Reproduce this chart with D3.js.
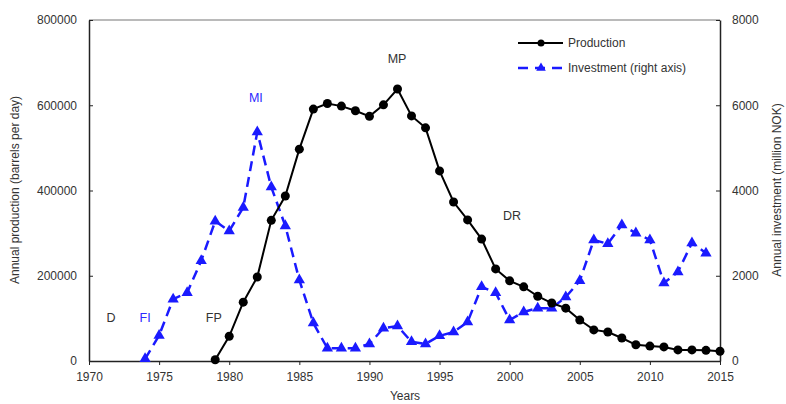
<!DOCTYPE html>
<html><head><meta charset="utf-8">
<script src="https://cdn.jsdelivr.net/npm/d3@7/dist/d3.min.js"></script>
<style>body{margin:0;background:#fff;} text{font-family:"Liberation Sans",Arial,sans-serif;}</style>
</head><body><svg id="c" width="786" height="404"></svg>
<script>
const prodYears = d3.range(1979, 2016);
const production = [3000,58000,138000,197000,330000,387000,497000,591000,604000,598000,587000,574000,601000,638000,575000,547000,446000,373000,331000,286000,216000,188000,174000,152000,136000,124000,96000,73000,68000,54000,38000,35000,33000,26000,26000,25000,23000];
const invYears = d3.range(1974, 2015);
const investment = [50,600,1450,1600,2350,3280,3050,3600,5370,4080,3170,1900,890,300,300,300,400,770,820,450,400,590,680,915,1740,1600,960,1150,1240,1240,1500,1880,2840,2750,3190,3000,2840,1830,2090,2770,2530];
const xTicks = [1970,1975,1980,1985,1990,1995,2000,2005,2010,2015];
const leftTicks = [0,200000,400000,600000,800000];
const rightTicks = [0,2000,4000,6000,8000];
const phaseLabels = [
  {t:"D", x:1971.57, y:91500, c:"#333"},
  {t:"FI", x:1974.0, y:91500, c:"#2a2aff"},
  {t:"FP", x:1978.9, y:91500, c:"#333"},
  {t:"MI", x:1981.9, y:607000, c:"#2a2aff"},
  {t:"MP", x:1991.97, y:699000, c:"#333"},
  {t:"DR", x:2000.17, y:331000, c:"#333"}
];

const svg = d3.select("#c");
const L=89, R=720, T=20, B=361;
const x = d3.scaleLinear().domain([1970,2015]).range([L,R]);
const yL = d3.scaleLinear().domain([0,800000]).range([B,T]);
const yR = d3.scaleLinear().domain([0,8000]).range([B,T]);

// frame top
svg.append("line").attr("x1",L).attr("x2",R).attr("y1",T).attr("y2",T).attr("stroke","#777").attr("stroke-width",1.2);

const fs = "12px";
const gx = svg.append("g").attr("transform",`translate(0,${B})`)
  .call(d3.axisBottom(x).tickValues(xTicks).tickFormat(d3.format("d")).tickSize(4).tickSizeOuter(0));
const gl = svg.append("g").attr("transform",`translate(${L},0)`)
  .call(d3.axisLeft(yL).tickValues(leftTicks).tickFormat(d3.format("d")).tickSize(-4).tickSizeOuter(0).tickPadding(12));
const gr = svg.append("g").attr("transform",`translate(${R},0)`)
  .call(d3.axisRight(yR).tickValues(rightTicks).tickFormat(d3.format("d")).tickSize(-4).tickSizeOuter(0).tickPadding(12));
[gx,gl,gr].forEach(g=>{
  g.select(".domain").attr("stroke","#222").attr("stroke-width",1.5);
  g.selectAll(".tick line").attr("stroke","#222");
  g.selectAll("text").attr("font-family","Liberation Sans, Arial, sans-serif").attr("font-size",fs).attr("fill","#333");
});
gx.selectAll("text").attr("dy","1.1em");

// titles
svg.append("text").attr("x",405).attr("y",400).attr("text-anchor","middle").attr("font-size",fs).attr("fill","#333").text("Years");
svg.append("text").attr("transform","translate(19,190) rotate(-90)").attr("text-anchor","middle").attr("font-size",fs).attr("fill","#333").text("Annual production (barrels per day)");
svg.append("text").attr("transform","translate(781,190) rotate(-90)").attr("text-anchor","middle").attr("font-size",fs).attr("fill","#333").text("Annual investment (million NOK)");

const blue = "#1a1aff";
// investment
const invData = invYears.map((yr,i)=>({x:yr,y:investment[i]}));
svg.append("path").datum(invData)
  .attr("d", d3.line().x(d=>x(d.x)).y(d=>yR(d.y)))
  .attr("fill","none").attr("stroke",blue).attr("stroke-width",2.5).attr("stroke-dasharray","10,6");
const tri = d3.symbol().type(d3.symbolTriangle).size(55);
svg.selectAll(".tri").data(invData).enter().append("path")
  .attr("transform",d=>`translate(${x(d.x)},${yR(d.y)})`).attr("d",tri).attr("fill",blue);

// production
const prodData = prodYears.map((yr,i)=>({x:yr,y:production[i]}));
svg.append("path").datum(prodData)
  .attr("d", d3.line().x(d=>x(d.x)).y(d=>yL(d.y)))
  .attr("fill","none").attr("stroke","#000").attr("stroke-width",2);
svg.selectAll(".dot").data(prodData).enter().append("circle")
  .attr("cx",d=>x(d.x)).attr("cy",d=>yL(d.y)).attr("r",4.5).attr("fill","#000");

// phase labels
svg.selectAll(".ph").data(phaseLabels).enter().append("text")
  .attr("x",d=>x(d.x)).attr("y",d=>yL(d.y)).attr("text-anchor","middle").attr("font-size","12.5px").attr("fill",d=>d.c).text(d=>d.t);

// legend
const lg = svg.append("g");
lg.append("line").attr("x1",518).attr("x2",563).attr("y1",43).attr("y2",43).attr("stroke","#000").attr("stroke-width",2);
lg.append("circle").attr("cx",541).attr("cy",43).attr("r",3.5).attr("fill","#000");
lg.append("text").attr("x",568).attr("y",47).attr("font-size",fs).attr("fill","#333").text("Production");
lg.append("line").attr("x1",518).attr("x2",563).attr("y1",68).attr("y2",68).attr("stroke",blue).attr("stroke-width",2.5).attr("stroke-dasharray","10,7");
lg.append("path").attr("transform","translate(541,68)").attr("d",d3.symbol().type(d3.symbolTriangle).size(40)).attr("fill",blue);
lg.append("text").attr("x",568).attr("y",72).attr("font-size",fs).attr("fill","#333").text("Investment (right axis)");
</script></body></html>
